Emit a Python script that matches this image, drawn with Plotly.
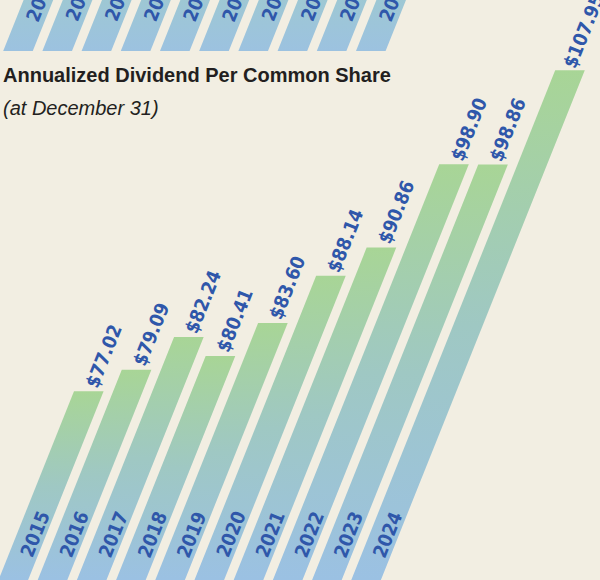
import plotly.graph_objects as go

# ---------------- data ----------------
years = ["2015", "2016", "2017", "2018", "2019", "2020", "2021", "2022", "2023", "2024"]
dividends = [77.02, 79.09, 82.24, 80.41, 83.60, 88.14, 90.86, 98.90, 98.86, 107.95]
value_labels = ["$77.02", "$79.09", "$82.24", "$80.41", "$83.60",
                "$88.14", "$90.86", "$98.90", "$98.86", "$107.95"]
prior_years = ["2015", "2016", "2017", "2018", "2019", "2020", "2021", "2022", "2023", "2024"]
title_text = "Annualized Dividend Per Common Share"
subtitle_text = "(at December 31)"

# ---------------- styling / geometry ----------------
W, H = 600, 580
BG = "#f2eee2"
TXT_BLUE = "#2f57aa"
FONT_NARROW = "Liberation Sans Narrow, DejaVu Sans Condensed, Arial Narrow, sans-serif"

PX_PER_X = 39.2            # pixels per category step
X0 = -0.339                # left edge of x range
PX_PER_DOLLAR = 10.377     # vertical scale of main chart
YMIN = 58.83
YMAX = YMIN + H / PX_PER_DOLLAR
SLANT = 0.4                # horizontal px per vertical px
SHEAR = SLANT * PX_PER_DOLLAR / PX_PER_X
HALF_W = 14.8 / PX_PER_X
ANGLE = -68

# top strip (cut-off previous chart)
STRIP_PX = 51
STRIP_SHEAR = SLANT * STRIP_PX / PX_PER_X
STRIP_OFF = 4.7 / PX_PER_X

fig = go.Figure()


def xc(i, v):
    return i + SHEAR * (v - YMIN)


for i, (yr, v) in enumerate(zip(years, dividends)):
    xs = [xc(i, YMIN) - HALF_W, xc(i, YMIN) + HALF_W, xc(i, v) + HALF_W, xc(i, v) - HALF_W, xc(i, YMIN) - HALF_W]
    ys = [YMIN, YMIN, v, v, YMIN]
    fig.add_trace(go.Scatter(
        x=xs, y=ys, mode="lines", fill="toself", line=dict(width=0),
        fillgradient=dict(type="vertical",
                          colorscale=[[0, "#9bc1e3"], [0.5, "#9fc8c3"], [1, "#a8d596"]]),
        hoverinfo="skip", showlegend=False, xaxis="x", yaxis="y"))

for i, yr in enumerate(prior_years):
    b0 = i + STRIP_OFF
    top = 1.6
    xs = [b0 - HALF_W, b0 + HALF_W, b0 + STRIP_SHEAR * top + HALF_W, b0 + STRIP_SHEAR * top - HALF_W, b0 - HALF_W]
    ys = [0, 0, top, top, 0]
    fig.add_trace(go.Scatter(
        x=xs, y=ys, mode="lines", fill="toself", line=dict(width=0),
        fillgradient=dict(type="vertical", colorscale=[[0, "#9cc2e0"], [1, "#9fcbcc"]]),
        hoverinfo="skip", showlegend=False, xaxis="x2", yaxis="y2"))

annotations = []
# year labels on main bars
lab_v = YMIN + 46 / PX_PER_DOLLAR
for i, yr in enumerate(years):
    annotations.append(dict(
        x=xc(i, lab_v) + 3 / PX_PER_X, y=lab_v, xref="x", yref="y", text=yr,
        showarrow=False, textangle=ANGLE, xanchor="center", yanchor="middle",
        font=dict(family=FONT_NARROW, size=19, color=TXT_BLUE, weight="bold")))

# value labels above bars
for i, (lab, v) in enumerate(zip(value_labels, dividends)):
    d = 12 + 4.4 * len(lab)
    annotations.append(dict(
        x=xc(i, v), y=v, xref="x", yref="y", text=lab,
        showarrow=False, textangle=ANGLE, xanchor="center", yanchor="middle",
        xshift=d * 0.375 - (3 if len(lab) > 6 else 0), yshift=d * 0.927,
        font=dict(family=FONT_NARROW, size=19, color=TXT_BLUE, weight="bold")))

# year labels of the cut-off strip (only their lower part shows)
for i, yr in enumerate(prior_years):
    yv = 1.045
    annotations.append(dict(
        x=i + STRIP_OFF + STRIP_SHEAR * yv + 0.03, y=0.99, xref="x2", yref="y2", text=yr,
        yshift=(yv - 0.99) * STRIP_PX,
        showarrow=False, textangle=ANGLE, xanchor="center", yanchor="middle",
        font=dict(family=FONT_NARROW, size=19, color=TXT_BLUE, weight="bold")))

annotations.append(dict(
    x=0.002, y=1 - 75 / H, xref="paper", yref="paper", text="<b>" + title_text + "</b>",
    showarrow=False, xanchor="left", yanchor="middle",
    font=dict(family="Liberation Sans, Arial, sans-serif", size=20, color="#231f20")))
annotations.append(dict(
    x=0.002, y=1 - 108 / H, xref="paper", yref="paper", text="<i>" + subtitle_text + "</i>",
    showarrow=False, xanchor="left", yanchor="middle",
    font=dict(family="Liberation Sans, Arial, sans-serif", size=20, color="#231f20")))

xr = [X0, X0 + W / PX_PER_X]
fig.update_layout(
    width=W, height=H, margin=dict(l=0, r=0, t=0, b=0),
    paper_bgcolor=BG, plot_bgcolor="rgba(0,0,0,0)",
    xaxis=dict(range=xr, visible=False, fixedrange=True, domain=[0, 1]),
    yaxis=dict(range=[YMIN, YMAX], visible=False, fixedrange=True, domain=[0, 1]),
    xaxis2=dict(range=xr, visible=False, fixedrange=True, domain=[0, 1], anchor="y2"),
    yaxis2=dict(range=[0, 1], visible=False, fixedrange=True,
                domain=[1 - STRIP_PX / H, 1], anchor="x2"),
    annotations=annotations,
)

fig.write_html("out.html", config={"displayModeBar": False},
               post_script="document.body.style.margin='0';")
